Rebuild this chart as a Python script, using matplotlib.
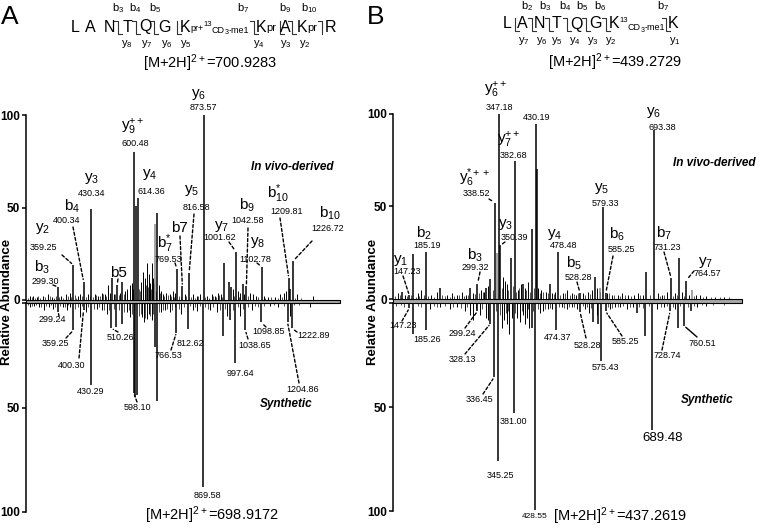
import matplotlib
matplotlib.use('Agg')
import matplotlib.pyplot as plt
from matplotlib.lines import Line2D
from matplotlib.patches import Rectangle

plt.rcParams['font.family'] = ['Liberation Sans', 'DejaVu Sans']
plt.rcParams['mathtext.fontset'] = 'custom'
plt.rcParams['mathtext.rm'] = 'Liberation Sans'
plt.rcParams['mathtext.it'] = 'Liberation Sans:italic'
plt.rcParams['mathtext.bf'] = 'Liberation Sans:bold'

# ======================= DATA =======================
# ---- Panel A, in vivo-derived (upper trace) ----
A_top_mz = [299.30, 359.25, 400.34, 430.34, 512, 532, 552, 600.48, 607, 614.36, 691,
            769.53, 790, 816.58, 873.57, 956, 974, 981, 1001.62, 1028, 1042.58,
            1102.78, 1209.81, 1216, 1226.72]
A_top_int = [7, 19, 10, 49, 12, 8, 10, 80, 51, 55, 47,
             16.5, 7.5, 14.5, 100, 20, 9.6, 7, 26, 8.7, 7.3,
             18, 12, 6, 21]
A_top_gray_mz = [682]
A_top_gray_int = [41]
A_top_noise_mz = [188.8, 200.6, 216.4, 240.1, 259.8, 275.6, 311.1, 330.9, 346.7, 378.2,
                  386.1, 417.7, 445.3, 457.1, 472.9, 484.8, 496.6, 504.5, 520.3, 544.0,
                  563.7, 571.6, 583.4, 591.3, 595.3, 626.8, 634.7, 642.6, 650.5, 658.4,
                  662.3, 670.2, 674.2, 697.9, 705.8, 713.7, 725.5, 741.3, 753.1, 761.0,
                  800.4, 832.0, 847.8, 859.6, 887.2, 907.0, 918.8, 930.7, 942.5, 989.9,
                  1009.6, 1017.5, 1033.3, 1057.0, 1068.8, 1080.6, 1112.2, 1128.0, 1155.6,
                  1175.3, 1191.1, 1199.0, 1242.4, 1305.6]
A_top_noise_int = [2, 2, 1.5, 2, 3, 1.5, 2, 3, 4, 2,
                   3, 3, 3, 2, 4, 3, 8, 4, 3, 4,
                   5, 6, 8, 9, 6, 10, 15, 12, 20, 14,
                   9, 20, 12, 8, 5, 3, 4, 3, 5, 4,
                   3, 3, 2, 3, 2, 3, 2, 4, 3, 6,
                   5, 4, 3, 4, 3, 2, 2, 1.5, 1.5,
                   3, 4, 5, 3, 2]
A_top_grass_mz = [182, 195, 208, 222, 230, 248, 266, 283, 290, 305, 318, 338, 352, 365, 372,
                  392, 408, 424, 437, 451, 464, 478, 490, 526, 538, 558, 618, 622, 646, 654,
                  666, 678, 686, 700, 718, 733, 746, 757, 776, 784, 806, 824, 840, 853, 880,
                  896, 912, 924, 936, 948, 995, 1013, 1050, 1088, 1118, 1140, 1166, 1183,
                  1234, 1260]
A_top_grass_int = [1, 1.5, 1, 2, 1, 1.5, 2, 1, 2, 1.5, 1, 2, 1.5, 2.5, 1, 2, 1.5, 2, 1.5,
                   2.5, 2, 3, 2, 3, 2.5, 3, 6, 5, 8, 7, 6, 9, 5, 4, 2, 2.5, 2, 1.5, 2, 1.5,
                   2, 1.5, 1, 2, 1.5, 1, 2, 1.5, 2.5, 1.5, 2, 1.5, 2, 1.5, 1, 1.5, 1, 1.5,
                   1, 1]

# ---- Panel A, synthetic (lower trace) ----
A_bot_mz = [299.24, 359.25, 400.30, 430.29, 510.26, 530, 550, 598.10, 605, 612, 682, 691,
            766.53, 812.62, 869.58, 951, 978, 997.64, 1038.65, 1098.85, 1204.86, 1222.89]
A_bot_int = [4, 13, 3, 39, 12, 11.5, 10, 43, 45, 44, 21, 47,
             14, 12.5, 88, 15.5, 8, 28.7, 13, 9, 9, 12]
A_bot_noise_mz = [188.8, 204.6, 224.3, 244.1, 263.8, 279.6, 319.0, 334.8, 346.7, 386.1,
                  409.8, 453.2, 472.9, 492.7, 571.6, 583.4, 630.8, 638.7, 650.5, 658.4,
                  670.2, 705.8, 721.5, 741.3, 784.7, 832.0, 847.8, 899.1, 926.7, 966.2,
                  1017.5, 1064.8, 1135.9, 1167.4, 1214.8, 1293.7]
A_bot_noise_int = [2, 1.5, 2, 3, 2, 2.5, 2, 3, 2, 6.5,
                   4, 2.5, 3, 5, 4, 6.5, 6.5, 9, 7.7, 5,
                   8, 4, 3, 4, 5, 3, 3.5, 3, 4, 6,
                   6, 3, 1.5, 2, 6, 2]
A_bot_grass_mz = [180, 196, 212, 232, 252, 271, 288, 308, 326, 340, 368, 378, 394, 418, 440,
                  462, 482, 500, 520, 540, 560, 580, 590, 620, 626, 644, 664, 676, 698, 712,
                  730, 750, 760, 776, 796, 822, 840, 858, 880, 890, 910, 938, 958, 988, 1010,
                  1028, 1050, 1075, 1088, 1112, 1150, 1190, 1232, 1250]
A_bot_grass_int = [1, 1.5, 1, 2, 1.5, 1, 2, 1.5, 2, 1, 2.5, 2, 1.5, 2, 2.5, 2, 3, 3, 2.5, 3,
                   4, 3, 5, 6, 5, 7, 6, 5, 4, 3, 2.5, 3, 2, 2.5, 2, 1.5, 2, 1.5, 2, 2.5, 2,
                   3, 2.5, 3, 2, 2.5, 2, 1.5, 2, 1.5, 1, 1.5, 1, 1]

# ---- Panel B, in vivo-derived (upper trace) ----
B_top_mz = [130.3, 147.23, 156.2, 185.19, 215.7, 282.7, 299.32, 318.3, 327.3, 338.52,
            347.18, 350.39, 373.5, 382.68, 400.2, 420.3, 430.19, 431.2, 461.1, 478.48,
            528.28, 561.0, 579.33, 585.25, 675.3, 693.38, 731.23, 749.0, 764.57]
B_top_int = [4, 2, 24.3, 25.6, 6, 6, 8, 6, 11, 52,
             100, 29, 22, 74.6, 8, 38, 94.6, 70, 8, 25.4,
             3, 12, 49.7, 3, 14.8, 91.4, 11.4, 22, 10]
B_top_gray_mz = [343.6, 573.0, 777.3]
B_top_gray_int = [25, 6, 5]
B_top_noise_mz = [122.0, 137.6, 166.6, 173.3, 195.6, 209.0, 231.3, 242.5, 253.7, 264.8,
                  273.7, 289.4, 307.2, 313.9, 322.8, 356.3, 360.7, 365.2, 389.8, 396.5,
                  405.4, 412.1, 434.4, 441.1, 452.3, 465.7, 472.4, 490.2, 499.2, 510.3,
                  519.2, 534.8, 546.0, 554.9, 566.1, 572.8, 588.4, 599.6, 613.0, 621.9,
                  635.3, 648.7, 657.6, 668.8, 702.3, 711.2, 722.3, 740.2, 755.8, 771.4,
                  787.0, 796.0, 810.0, 830.0, 850.0]
B_top_noise_int = [3, 2, 3, 5, 2, 4, 2, 3, 2, 4,
                   2, 3, 5, 4, 7, 12, 10, 8, 5, 8,
                   6, 9, 6, 5, 4, 3, 4, 3, 5, 3,
                   2, 3, 4, 5, 6, 4, 3, 2, 2, 3,
                   2, 2, 3, 2, 3, 2, 4, 3, 4, 2,
                   2, 2, 1.5, 1, 1]
B_top_grass_mz = [116, 126, 142, 151, 162, 170, 180, 190, 202, 220, 226, 237, 248, 259, 269,
                  278, 294, 303, 311, 333, 353, 368, 378, 386, 392, 408, 416, 425, 438, 446,
                  456, 470, 484, 495, 505, 515, 524, 540, 551, 593, 604, 617, 628, 642, 662,
                  683, 706, 716, 735, 744, 760, 782, 803, 820, 840, 860]
B_top_grass_int = [1.5, 2, 1.5, 2, 1, 1.5, 2, 1.5, 1, 2, 1.5, 1, 1.5, 2, 1.5, 2, 2.5, 3,
                   4, 5, 6, 5, 7, 4, 6, 5, 4, 6, 3, 4, 3, 2.5, 2, 3, 2, 2.5, 3, 2, 2.5, 3,
                   2, 1.5, 2, 1.5, 2, 2, 1.5, 2, 1.5, 2, 1.5, 1.5, 1, 1, 1, 1]

# ---- Panel B, synthetic (lower trace) ----
B_bot_mz = [147.23, 156.2, 185.26, 299.24, 328.13, 336.45, 345.25, 381.00, 420.3, 428.55,
            474.37, 528.28, 557.8, 568.9, 575.43, 585.25, 654.6, 673.1, 689.48, 728.74,
            746.1, 760.51, 775.0]
B_bot_int = [2.5, 14.7, 13, 4, 10, 35.7, 76, 53, 12, 99.7,
             13, 4.5, 9, 10, 28, 4, 5, 16, 61, 4,
             12, 11, 4]
B_bot_noise_mz = [193.4, 215.7, 238.0, 253.0, 271.5, 282.7, 290.0, 305.0, 318.4, 323.5,
                  353.4, 358.5, 364.5, 370.3, 375.7, 388.2, 394.2, 400.2, 405.4, 409.2,
                  415.0, 438.8, 446.2, 457.4, 465.0, 487.3, 498.4, 509.6, 520.7, 539.3,
                  548.8, 565.3, 595.0, 606.2, 617.3, 632.2, 647.0, 700.0, 715.0, 740.0,
                  790.0, 810.0]
B_bot_noise_int = [3, 2, 3, 2, 4, 6, 8, 6, 7, 8,
                   12, 8, 10, 15, 7, 7, 9, 6, 10, 7,
                   12, 5, 4, 3, 3, 2, 3, 2, 3, 3,
                   5, 6, 3, 2, 2, 3, 2, 3, 2, 3,
                   2, 1.5]
B_bot_grass_mz = [118, 128, 136, 166, 174, 202, 208, 226, 245, 262, 276, 296, 310, 341,
                  349, 362, 367, 384, 398, 412, 424, 434, 451, 462, 482, 492, 504, 515, 535,
                  544, 553, 590, 600, 612, 625, 640, 660, 668, 682, 708, 722, 735, 752, 768,
                  782, 800, 825, 850]
B_bot_grass_int = [1.5, 1, 2, 1.5, 2, 1.5, 2, 1.5, 2, 2.5, 2, 3, 3, 4, 6, 5, 4, 5, 4, 3,
                   4, 3, 3, 2.5, 2, 2.5, 2, 2, 1.5, 2, 2.5, 2, 2.5, 2, 1.5, 2, 2, 2.5, 1.5,
                   2, 1.5, 2, 1.5, 2, 1.5, 1, 1, 1]

# ---- annotation texts ----
A_top_ions = ["y$_6$", "y$_9^{++}$", "y$_4$", "y$_3$", "b$_4$", "y$_2$", "b$_3$", "b5",
              "b$_7^{*}$", "b7", "y$_5$", "y$_7$", "b$_9$", "y$_8$", "b$_{10}^{*}$", "b$_{10}$"]
A_top_vals = ["873.57", "600.48", "614.36", "430.34", "400.34", "359.25", "299.30",
              "769.53", "816.58", "1001.62", "1042.58", "1102.78", "1209.81", "1226.72"]
A_bot_vals = ["299.24", "359.25", "400.30", "430.29", "510.26", "598.10", "766.53",
              "812.62", "869.58", "997.64", "1038.65", "1098.85", "1204.86", "1222.89"]
B_top_ions = ["y$_6^{++}$", "y$_7^{++}$", "y$_6^{*++}$", "y$_3$", "b$_2$", "y$_1$", "b$_3$",
              "y$_4$", "b$_5$", "y$_5$", "b$_6$", "y$_6$", "b$_7$", "y$_7$"]
B_top_vals = ["347.18", "430.19", "382.68", "338.52", "350.39", "185.19", "147.23",
              "299.32", "478.48", "528.28", "579.33", "585.25", "693.38", "731.23", "764.57"]
B_bot_vals = ["147.23", "185.26", "299.24", "328.13", "336.45", "345.25", "381.00",
              "474.37", "528.28", "575.43", "585.25", "728.74", "760.51"]
B_bot_big_vals = ["689.48"]
B_bot_small_vals = ["428.55"]

# ======================= LAYOUT =======================
W, H = 760, 528
fig = plt.figure(figsize=(W / 100, H / 100), dpi=100)


def fx(x):
    return x / W


def fy(y):
    return 1 - y / H


def add_ax(left, top, right, bottom):
    return fig.add_axes([fx(left), fy(bottom), (right - left) / W, (bottom - top) / H])


def T(x, y, s, size, **kw):
    kw.setdefault('ha', 'center')
    kw.setdefault('va', 'center')
    fig.text(fx(x), fy(y), s, fontsize=size, **kw)


def style(ax, xlim, inverted):
    for s in ['top', 'right', 'bottom']:
        ax.spines[s].set_visible(False)
    ax.spines['left'].set_linewidth(1.1)
    ax.set_xlim(*xlim)
    ax.set_xticks([])
    ax.patch.set_alpha(0)
    if inverted:
        ax.set_ylim(100, 0)
        ax.set_yticks([0, 50, 100], ['', '50', '100'], fontweight='bold')
    else:
        ax.set_ylim(0, 100)
        ax.set_yticks([0, 50, 100], ['0', '50', '100'], fontweight='bold')
    ax.tick_params(axis='y', length=3, width=1.1, labelsize=8.5, pad=1.5)


def draw(ax, mz, it, color='black', lw=1.1):
    ax.vlines(mz, 0, it, color=color, lw=lw)


def leader(ax, target, mzs, ints, start, ls=(0, (2.2, 1.6))):
    i = min(range(len(mzs)), key=lambda k: abs(mzs[k] - target))
    ax.annotate('', xy=(mzs[i], ints[i]), xycoords='data',
                xytext=(start[0], H - start[1]), textcoords='figure pixels',
                arrowprops=dict(arrowstyle='-', lw=1.0, ls=ls, color='black',
                                shrinkA=0, shrinkB=1.5),
                annotation_clip=False)


# axes
axA1 = add_ax(26, 115, 340, 300)
axA2 = add_ax(26, 303.3, 340, 512)
axB1 = add_ax(393, 114, 742, 299)
axB2 = add_ax(393, 303, 742, 511)
A_xlim = (173, 1412)
B_xlim = (110.9, 889.3)
style(axA1, A_xlim, False)
style(axA2, A_xlim, True)
style(axB1, B_xlim, False)
style(axB2, B_xlim, True)

# baseline bands
for l, r, t, b in [(26, 340, 300, 303.3), (393, 742, 299, 303)]:
    fig.add_artist(Rectangle((fx(l), fy(b)), (r - l) / W, (b - t) / H,
                             transform=fig.transFigure, facecolor='#a8a8a8',
                             edgecolor='black', lw=0.8))

# peaks
for ax, gm, gi in [(axA1, A_top_grass_mz, A_top_grass_int), (axA2, A_bot_grass_mz, A_bot_grass_int),
                   (axB1, B_top_grass_mz, B_top_grass_int), (axB2, B_bot_grass_mz, B_bot_grass_int)]:
    draw(ax, gm, gi, color='#333333', lw=0.6)
draw(axA1, A_top_noise_mz, A_top_noise_int, lw=0.7)
draw(axA1, A_top_gray_mz, A_top_gray_int, color='#8c8c8c')
draw(axA1, A_top_mz, A_top_int)
draw(axA2, A_bot_noise_mz, A_bot_noise_int, lw=0.7)
draw(axA2, A_bot_mz, A_bot_int)
draw(axB1, B_top_noise_mz, B_top_noise_int, lw=0.7)
draw(axB1, B_top_gray_mz, B_top_gray_int, color='#8c8c8c')
draw(axB1, B_top_mz, B_top_int)
draw(axB2, B_bot_noise_mz, B_bot_noise_int, lw=0.7)
draw(axB2, B_bot_mz, B_bot_int)

# y labels
T(7, 302, 'Relative Abundance', 9.5, rotation=90, fontweight='bold')
T(373, 302, 'Relative Abundance', 9.5, rotation=90, fontweight='bold')

# panel letters
T(10, 17, 'A', 19)
T(376, 17, 'B', 19)

ION = 11
VAL = 6.5

# ---- Panel A labels ----
A_top_ion_pos = [(199, 94), (133, 127), (150, 175), (92, 178), (72, 206), (43, 228),
                 (42, 267), (118, 273), (165, 244), (179, 228), (192, 190), (222, 226),
                 (247, 205), (258, 243), (278, 194), (330, 213)]
for s, p in zip(A_top_ions, A_top_ion_pos):
    T(p[0], p[1], s, ION)
A_top_val_pos = [(203, 107), (135, 144), (151, 191), (92, 194), (67, 220), (43, 247),
                 (45, 282), (168, 260), (196, 207), (220, 238), (248, 220), (255, 259),
                 (287, 212), (328, 228)]
for s, p in zip(A_top_vals, A_top_val_pos):
    T(p[0], p[1], s, VAL)
A_top_leaders = [(299.30, (53, 285)), (359.25, (62, 255)), (400.34, (73, 227)),
                 (532, (118, 279)), (769.53, (175, 263)), (790, (180, 236)),
                 (816.58, (194, 214)), (1001.62, (229, 242)), (1042.58, (248, 228)),
                 (1102.78, (257, 263)), (1209.81, (280, 218)), (1226.72, (312, 241))]
for m, p in A_top_leaders:
    leader(axA1, m, A_top_mz, A_top_int, p)

A_bot_val_pos = [(52, 320), (55, 344), (72, 365), (91, 391), (120, 338), (137, 408),
                 (168, 356), (190, 343), (207, 496), (240, 374), (255, 346), (269, 332),
                 (303, 389), (314, 336)]
for s, p in zip(A_bot_vals, A_bot_val_pos):
    T(p[0], p[1], s, VAL)
A_bot_leaders = [(299.24, (59, 316)), (359.25, (66, 338)), (400.30, (79, 358)),
                 (510.26, (118, 332)), (598.10, (137, 402)), (766.53, (171, 350)),
                 (1038.65, (248, 339)), (1098.85, (266, 327)), (1204.86, (299, 383)),
                 (1222.89, (297, 332))]
for m, p in A_bot_leaders:
    leader(axA2, m, A_bot_mz, A_bot_int, p)

T(292, 167, 'In vivo-derived', 8.5, fontweight='bold', style='italic')
T(286, 404, 'Synthetic', 8.5, fontweight='bold', style='italic')

# ---- Panel B labels ----
B_top_ion_pos = [(496, 90), (509, 140), (475, 178), (506, 225), (424, 233), (401, 260),
                 (475, 255), (555, 235), (574, 263), (602, 188), (617, 234), (654, 112),
                 (664, 233), (706, 262)]
for s, p in zip(B_top_ions, B_top_ion_pos):
    T(p[0], p[1], s, ION)
B_top_val_pos = [(499, 107), (537, 117), (513, 156), (476, 194), (514, 237), (427, 246),
                 (407, 272), (475, 267), (564, 246), (578, 277), (605, 203), (621, 250),
                 (662, 127), (667, 247), (707, 273)]
for s, p in zip(B_top_vals, B_top_val_pos):
    T(p[0], p[1], s, VAL)
B_top_leaders = [(147.23, (403, 276)), (299.32, (480, 272)), (338.52, (489, 199)),
                 (350.39, (505, 242)), (528.28, (577, 282)), (585.25, (613, 256)),
                 (731.23, (664, 252)), (764.57, (694, 271))]
for m, p in B_top_leaders:
    leader(axB1, m, B_top_mz, B_top_int, p)

B_bot_val_pos = [(403, 325), (427, 339), (462, 333), (462, 360), (479, 400), (500, 476),
                 (513, 421), (558, 337), (587, 345), (605, 368), (625, 341), (667, 355),
                 (702, 343)]
for s, p in zip(B_bot_vals, B_bot_val_pos):
    T(p[0], p[1], s, VAL)
T(663, 438, B_bot_big_vals[0], 9.5)
T(535, 517, B_bot_small_vals[0], 6)
B_bot_leaders = [(147.23, (402, 321)), (299.24, (465, 328)), (328.13, (465, 354)),
                 (336.45, (483, 394)), (528.28, (586, 338)), (585.25, (622, 336)),
                 (728.74, (662, 350))]
for m, p in B_bot_leaders:
    leader(axB2, m, B_bot_mz, B_bot_int, p)
leader(axB2, 760.51, B_bot_mz, B_bot_int, (697, 337), ls='-')

T(714, 163, 'In vivo-derived', 8.5, fontweight='bold', style='italic')
T(707, 400, 'Synthetic', 8.5, fontweight='bold', style='italic')

# ---- precursor masses ----
T(210, 63, '[M+2H]$^{2+}$=700.9283', 10.5)
T(212, 515, '[M+2H]$^{2+}$=698.9172', 10.5)
T(615, 62, '[M+2H]$^{2+}$=439.2729', 10.5)
T(620, 516, '[M+2H]$^{2+}$=437.2619', 10.5)

# ---- peptide sequences ----
SEQ = 11.5
SUB = 8


def bracket(x, has_b, has_y, top=20.5, bot=34, tick=4):
    xs, ys = [], []
    if has_b:
        xs += [x - tick]
        ys += [top]
    xs += [x, x]
    ys += [top, bot]
    if has_y:
        xs += [x + tick]
        ys += [bot]
    fig.add_artist(Line2D([fx(v) for v in xs], [fy(v) for v in ys],
                          transform=fig.transFigure, color='#333333', lw=0.8))


# Panel A sequence
ya = 27
for ch, x in [('L', 75), ('A', 90.7), ('N', 109), ('T', 127.3), ('Q', 145), ('G', 164.3),
              ('A', 285), ('R', 331)]:
    T(x, ya, ch, SEQ)
T(185, ya, 'K', SEQ)
T(190, ya + 1.5, 'pr+', 6.5, ha='left')
T(203, ya - 3, '13', 5.5, ha='left')
T(212, ya + 3.5, 'CD', 6.5, ha='left')
T(225, ya + 6, '3', 5, ha='left')
T(229, ya + 3.5, '-me1', 6.5, ha='left')
for x in (261, 302):
    T(x, ya, 'K', SEQ)
    T(x + 5, ya + 1, 'pr', 8, ha='left')
for x, hb, hy in [(118, 1, 1), (136, 1, 1), (154, 1, 1), (177, 0, 1), (254, 1, 1),
                  (279.5, 0, 1), (292, 1, 1), (322, 1, 0)]:
    bracket(x, hb, hy)
for s, x in [('b$_3$', 118), ('b$_4$', 135), ('b$_5$', 155), ('b$_7$', 243),
             ('b$_9$', 285), ('b$_{10}$', 309)]:
    T(x, 8.5, s, SUB)
for s, x in [('y$_8$', 127), ('y$_7$', 147), ('y$_6$', 167), ('y$_5$', 186),
             ('y$_4$', 259), ('y$_3$', 286), ('y$_2$', 305)]:
    T(x, 44, s, SUB)

# Panel B sequence
yb = 24
for ch, x in [('L', 506.7), ('A', 522.7), ('N', 539.3), ('T', 556.7), ('Q', 576),
              ('G', 595), ('K', 614), ('K', 672.7)]:
    T(x, yb, ch, SEQ)
T(619.5, yb - 3, '13', 5.5, ha='left')
T(628, yb + 3.5, 'CD', 6.5, ha='left')
T(641, yb + 6, '3', 5, ha='left')
T(645, yb + 3.5, '-me1', 6.5, ha='left')
for x, hb, hy in [(515, 0, 1), (531.7, 1, 1), (549.3, 1, 1), (566.7, 1, 1), (586, 1, 1),
                  (606, 1, 1), (666, 1, 1)]:
    bracket(x, hb, hy, top=17.5, bot=31)
for s, x in [('b$_2$', 527), ('b$_3$', 545), ('b$_4$', 565), ('b$_5$', 582),
             ('b$_6$', 600), ('b$_7$', 663)]:
    T(x, 6, s, SUB)
for s, x in [('y$_7$', 524), ('y$_6$', 542), ('y$_5$', 557), ('y$_4$', 575),
             ('y$_3$', 593), ('y$_2$', 611), ('y$_1$', 675)]:
    T(x, 41, s, SUB)

fig.savefig('out.png', dpi=100)
